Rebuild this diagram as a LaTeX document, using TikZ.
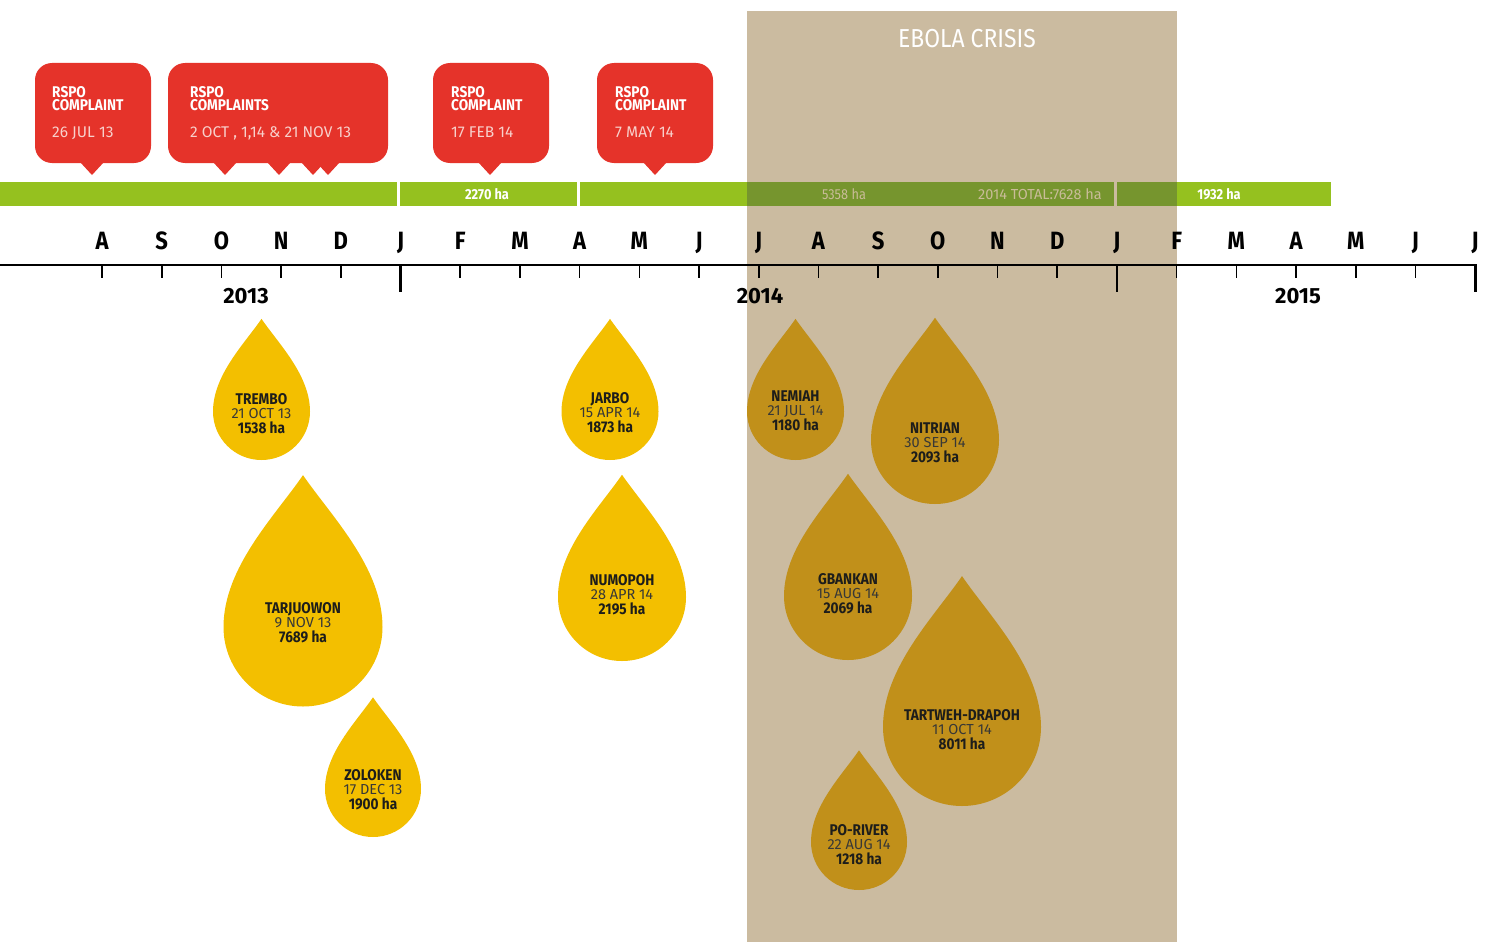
\documentclass[tikz,border=0pt]{standalone}
\usepackage{fontspec}
\setmainfont{Fira Sans}
\definecolor{rspored}{HTML}{E5332A}
\definecolor{bargreen}{HTML}{95C11F}
\definecolor{bardark}{HTML}{76952E}
\definecolor{ebola}{HTML}{CBBBA0}
\definecolor{dropyellow}{HTML}{F3BF00}
\definecolor{dropgold}{HTML}{C1901A}
\definecolor{dtext}{HTML}{1D1D1B}
\definecolor{paletext}{HTML}{F8D0CB}
\definecolor{ebolatext}{HTML}{C9BC98}
\newcommand\cn[1]{\scalebox{0.88}[1]{#1}}
\newcommand\pointer[1]{\fill[rspored] (#1-12,-162) -- (#1,-175) -- (#1+12,-162) -- cycle;}
\newcommand\mydrop[9]{%
  \begin{scope}[shift={(#2,-#3)}]
    \fill[#5] (0,{1.91*#4}) .. controls ({-0.35*#4},{1.4*#4}) and ({-#4},{0.75*#4}) .. ({-#4},0)
      arc[start angle=180,end angle=360,radius=#4]
      .. controls ({#4},{0.75*#4}) and ({0.35*#4},{1.4*#4}) .. (0,{1.91*#4}) -- cycle;
  \end{scope}
  \node[dname] (#1-name) at (#2,-#9) {\cn{#6}};
  \node[ddate] (#1-date) at (#2,{-(#9+14)}) {#7};
  \node[dname] (#1-ha) at (#2,{-(#9+29)}) {\cn{#8}};
}
\begin{document}
\begin{tikzpicture}[x=1pt,y=1pt,
  dname/.style={anchor=base,inner sep=0pt,text=dtext,font=\fontsize{15.5}{16}\selectfont\bfseries},
  ddate/.style={anchor=base,inner sep=0pt,text=dtext!88,font=\fontsize{14.5}{15}\selectfont},
  month/.style={anchor=base,inner sep=0pt,text=black,font=\fontsize{25}{25}\selectfont\bfseries},
  year/.style={anchor=base,inner sep=0pt,text=black,font=\fontsize{22}{22}\selectfont\bfseries},
  bartext/.style={anchor=base,inner sep=0pt,text=white,font=\fontsize{14.5}{15}\selectfont\bfseries},
  bartextpale/.style={anchor=base,inner sep=0pt,text=ebolatext,font=\fontsize{14.5}{15}\selectfont},
  callout/.style={fill=rspored,rounded corners=17pt,inner sep=0pt,outer sep=0pt,minimum height=100pt},
  rtitle/.style={anchor=base west,inner sep=0pt,text=white,font=\fontsize{15.5}{15.5}\selectfont\bfseries},
  rdate/.style={anchor=base west,inner sep=0pt,text=paletext,font=\fontsize{15.5}{16}\selectfont},
  smalltick/.style={line width=1.6pt},
  bigtick/.style={line width=2.8pt}]
\useasboundingbox (0,0) rectangle (1488,-942);
% Ebola crisis band
\fill[ebola] (747,-11) rectangle (1177,-942);
\node[anchor=base,inner sep=0pt,text=white,font=\fontsize{26}{26}\selectfont] (ebolatitle) at (967,-48) {\cn{EBOLA CRISIS}};
% green bar
\fill[bargreen] (0,-182) rectangle (397,-206);
\fill[bargreen] (400,-182) rectangle (577,-206);
\fill[bargreen] (580,-182) rectangle (1114,-206);
\fill[bargreen] (1117,-182) rectangle (1331,-206);
\fill[bardark] (747,-182) rectangle (1114,-206);
\fill[bardark] (1117,-182) rectangle (1177,-206);
\node[bartext] (b1) at (487,-199) {\cn{2270 ha}};
\node[bartextpale] (b2) at (844,-199) {\cn{5358 ha}};
\node[bartextpale] (b3) at (1040,-199) {2014 TOTAL:7628 ha};
\node[bartext] (b4) at (1219,-199) {\cn{1932 ha}};
% callouts
\node[callout,minimum width=116pt] (c1) at (93,-113) {};
\pointer{92}
\node[rtitle] (c1a) at (52,-97) {\cn{RSPO}};
\node[rtitle] (c1b) at (52,-110) {\cn{COMPLAINT}};
\node[rdate] (c1c) at (52,-137) {26 JUL 13};
\node[callout,minimum width=220pt] (c2) at (278,-113) {};
\pointer{225}\pointer{279}\pointer{313}\pointer{328}
\node[rtitle] (c2a) at (190,-97) {\cn{RSPO}};
\node[rtitle] (c2b) at (190,-110) {\cn{COMPLAINTS}};
\node[rdate] (c2c) at (190,-137) {2 OCT , 1,14 \& 21 NOV 13};
\node[callout,minimum width=116pt] (c3) at (491,-113) {};
\pointer{490}
\node[rtitle] (c3a) at (451,-97) {\cn{RSPO}};
\node[rtitle] (c3b) at (451,-110) {\cn{COMPLAINT}};
\node[rdate] (c3c) at (451,-137) {17 FEB 14};
\node[callout,minimum width=116pt] (c4) at (655,-113) {};
\pointer{655}
\node[rtitle] (c4a) at (615,-97) {\cn{RSPO}};
\node[rtitle] (c4b) at (615,-110) {\cn{COMPLAINT}};
\node[rdate] (c4c) at (615,-137) {7 MAY 14};
% axis
\draw[line width=2.2pt] (0,-265) -- (1475,-265);
\foreach \l [count=\i from 0] in {A,S,O,N,D,J,F,M,A,M,J,J,A,S,O,N,D,J,F,M,A,M,J,J}{
  \pgfmathsetmacro\xx{102+59.7*\i}
  \node[month] (m\i) at (\xx,-249) {\cn{\l}};
  \ifnum\i=5 \draw[bigtick] (\xx,-265) -- (\xx,-292);
  \else\ifnum\i=17 \draw[bigtick] (\xx,-265) -- (\xx,-292);
  \else\ifnum\i=23 \draw[bigtick] (\xx,-264) -- (\xx,-292);
  \else \draw[smalltick] (\xx,-265) -- (\xx,-278);
  \fi\fi\fi
}
\node[year] (y13) at (246,-303) {2013};
\node[year] (y14) at (760,-303) {2014};
\node[year] (y15) at (1298,-303) {2015};
% drops
\mydrop{trembo}{261.5}{411.5}{48.5}{dropyellow}{TREMBO}{21 OCT 13}{1538 ha}{404}
\mydrop{tarjuowon}{303}{627}{79.5}{dropyellow}{TARJUOWON}{9 NOV 13}{7689 ha}{613}
\mydrop{zoloken}{373}{789}{48}{dropyellow}{ZOLOKEN}{17 DEC 13}{1900 ha}{780}
\mydrop{jarbo}{610}{411.5}{48.5}{dropyellow}{JARBO}{15 APR 14}{1873 ha}{403}
\mydrop{numopoh}{622}{597}{64}{dropyellow}{NUMOPOH}{28 APR 14}{2195 ha}{585}
\mydrop{nemiah}{795.5}{411.5}{48.5}{dropgold}{NEMIAH}{21 JUL 14}{1180 ha}{401}
\mydrop{nitrian}{935}{440}{64}{dropgold}{NITRIAN}{30 SEP 14}{2093 ha}{433}
\mydrop{gbankan}{848}{596}{64}{dropgold}{GBANKAN}{15 AUG 14}{2069 ha}{584}
\mydrop{tartweh}{962}{727}{79}{dropgold}{TARTWEH-DRAPOH}{11 OCT 14}{8011 ha}{720}
\mydrop{poriver}{859}{842}{48}{dropgold}{PO-RIVER}{22 AUG 14}{1218 ha}{835}
\end{tikzpicture}
\end{document}
